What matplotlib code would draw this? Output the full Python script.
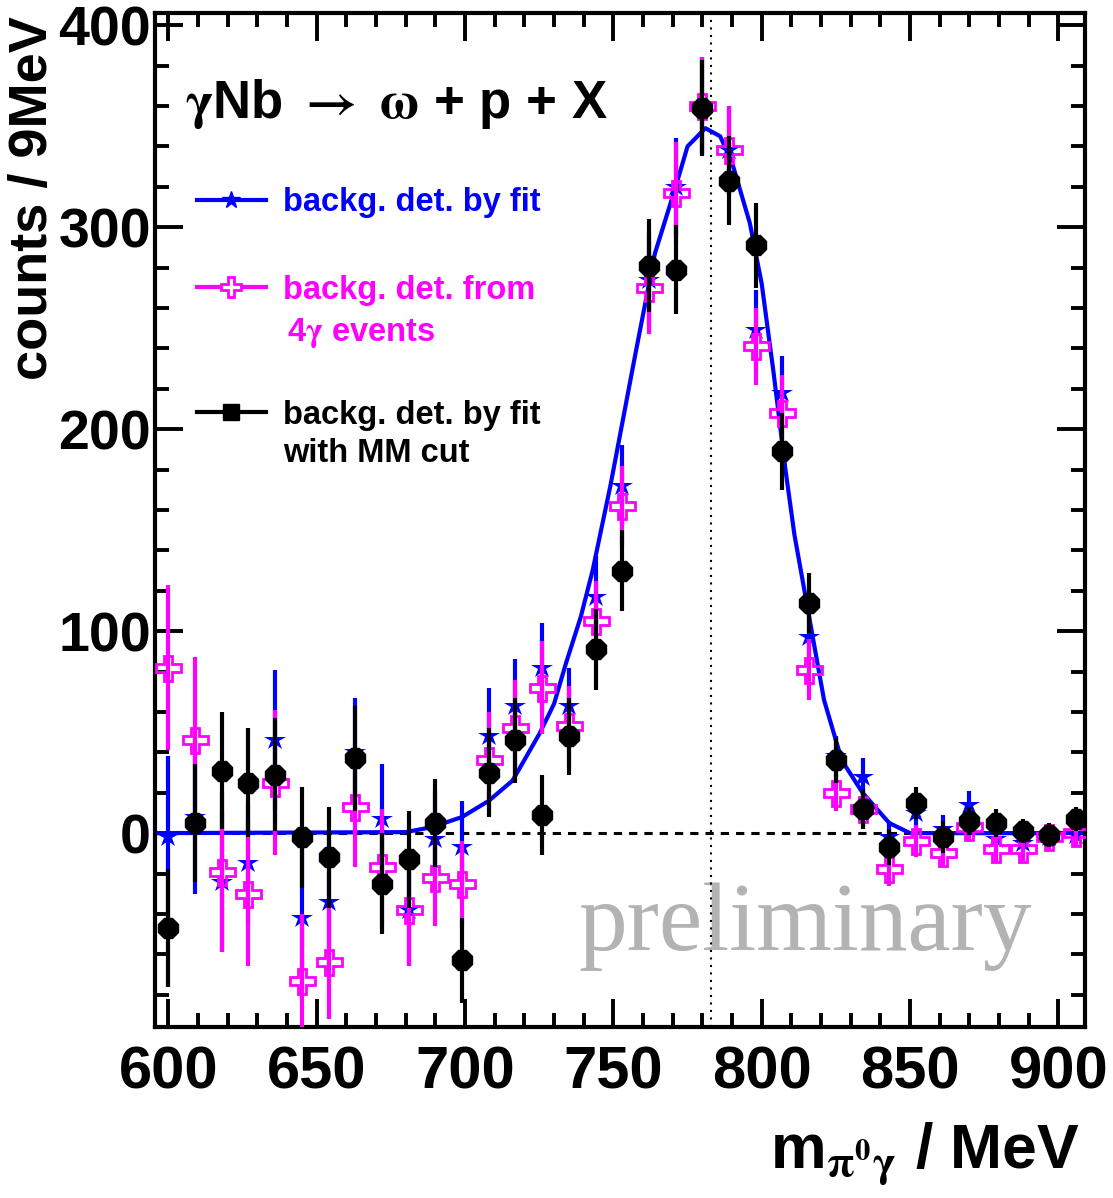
# omega signal in gamma Nb -> omega + p + X, three background methods
import matplotlib
matplotlib.use('Agg')
import matplotlib.pyplot as plt
from matplotlib.ticker import MultipleLocator

plt.rcParams['font.family'] = ['Liberation Sans', 'DejaVu Sans']
plt.rcParams['font.weight'] = 'bold'
plt.rcParams['mathtext.fontset'] = 'stix'

# bin centres (9 MeV bins)
mass = [600, 609, 618, 627, 636, 645, 654, 663, 672, 681, 690, 699,
        708, 717, 726, 735, 744, 753, 762, 771, 780, 789, 798, 807,
        816, 825, 834, 843, 852, 861, 870, 879, 888, 897, 906]

# background determined by fit (blue)
fit_counts = [-2, 8, -24, -15, 46, -42, -34, 40, 7, -38, -3, -7,
              48, 63, 82, 63, 117, 172, 274, 320, 360, 338, 249, 218,
              97, 38, 28, -2, 10, 2, 14, -3, -5, -2, -1]
fit_err = [40, 38, 35, 30, 35, 35, 35, 27, 27, 28, 24, 23,
           24, 23, 22, 19, 20, 20, 23, 24, 24, 22, 20, 18,
           14, 10, 9, 8, 8, 7, 7, 7, 6, 6, 6]

# background from 4 gamma events (magenta)
g4_counts = [82, 46, -19, -30, 25, -73, -64, 13, -17, -38, -22, -25,
             36, 52, 72, 53, 105, 162, 270, 317, 360, 338, 241, 208,
             81, 20, 12, -18, -4, -10, 3, -8, -8, -2, 0]
g4_err = [41, 41, 40, 36, 36, 33, 28, 30, 29, 28, 24, 21,
          24, 24, 23, 20, 20, 20, 23, 25, 24, 22, 19, 19,
          15, 9, 9, 8, 8, 7, 7, 7, 6, 6, 6]

# background by fit with missing mass cut (black)
mm_counts = [-47, 5, 31, 25, 29, -2, -12, 37, -25, -13, 5, -63,
             30, 46, 9, 48, 91, 130, 281, 279, 359, 323, 291, 189,
             114, 36, 12, -7, 15, -2, 6, 5, 1, -1, 7]
mm_err = [29, 29, 29, 27, 28, 25, 25, 26, 25, 24, 22, 21,
          22, 21, 20, 19, 20, 20, 23, 22, 24, 22, 21, 19,
          15, 11, 10, 9, 8, 8, 7, 7, 6, 6, 6]

# fitted signal curve
curve_x = [595.5, 680, 689, 699, 708, 716, 725, 730, 734, 739, 743, 749,
           757, 764, 771, 775, 781, 786, 790, 796, 800, 804, 808, 811,
           816, 821, 827, 834, 843, 850, 909]
curve_y = [0, 0.5, 3, 8, 16, 26, 49, 64, 84, 107, 130, 172,
           234, 287, 320, 340, 349, 345, 332, 302, 272, 228, 180, 148,
           107, 66, 36, 20, 5, 0, 0]

omega_mass = 783


def main():
    fig = plt.figure(figsize=(11.13, 11.98), dpi=100)
    ax = fig.add_axes([0.1393, 0.1427, 0.8356, 0.8464])

    ax.axhline(0, color='k', lw=2.2, ls=(0, (2.7, 2.3)), zorder=1)
    ax.axvline(omega_mass, color='k', lw=1.5, ls=(0, (1, 2.6)), zorder=1)

    ax.errorbar(mass, fit_counts, yerr=fit_err, fmt='*', color='blue',
                ms=16, mew=0, elinewidth=3, capsize=0, zorder=2)
    ax.plot(curve_x, curve_y, color='blue', lw=3, zorder=2)
    ax.errorbar(mass, g4_counts, yerr=g4_err, fmt='P', color='magenta',
                mfc='none', mec='magenta', ms=18, mew=2, elinewidth=3,
                capsize=0, zorder=3)
    ax.errorbar(mass, mm_counts, yerr=mm_err, fmt='8', color='black',
                ms=16, elinewidth=3, capsize=0, zorder=4)

    ax.set_xlim(595.5, 909)
    ax.set_ylim(-96, 406)
    ax.set_xticks([600, 650, 700, 750, 800, 850, 900])
    ax.set_yticks([0, 100, 200, 300, 400])
    ax.xaxis.set_minor_locator(MultipleLocator(10))
    ax.yaxis.set_minor_locator(MultipleLocator(20))
    ax.tick_params(which='both', direction='in', top=True, right=True, width=2.8)
    ax.tick_params(which='major', length=20)
    ax.tick_params(which='minor', length=10)
    ax.tick_params(axis='x', labelsize=43, pad=13)
    ax.tick_params(axis='y', labelsize=40, pad=3)
    for s in ax.spines.values():
        s.set_linewidth(3)

    ax.set_ylabel('counts / 9MeV', fontsize=39, fontweight='bold', loc='top')
    ax.yaxis.set_label_coords(-0.104, 0.997)
    ax.set_xlabel(r'm$_{\mathrm{\pi^{0}\gamma}}$ / MeV', fontsize=45, fontweight='bold', loc='right')
    ax.xaxis.set_label_coords(0.995, -0.092)

    ax.text(0.032, 0.8964, r'$\mathrm{\gamma}$Nb $\rightarrow$ $\mathrm{\omega}$ + p + X',
            transform=ax.transAxes, fontsize=38, fontweight='bold',
            va='baseline', ha='left')

    # legend drawn by hand
    hx = [0.0452, 0.1194]
    ax.plot(hx, [0.8156, 0.8156], color='blue', lw=3, transform=ax.transAxes)
    ax.plot([0.0817], [0.8156], '*', color='blue', ms=13, transform=ax.transAxes)
    ax.plot(hx, [0.7298, 0.7298], color='magenta', lw=3, transform=ax.transAxes)
    ax.plot([0.0817], [0.7298], 'P', mfc='white', mec='magenta', mew=2, ms=15,
            transform=ax.transAxes)
    ax.plot(hx, [0.6065, 0.6065], color='black', lw=3, transform=ax.transAxes)
    ax.plot([0.0817], [0.6065], 's', color='black', ms=12, transform=ax.transAxes)

    lfs = 23.5
    ax.text(0.1376, 0.8136, 'backg. det. by fit', color='blue', fontsize=lfs,
            fontweight='bold', va='center', transform=ax.transAxes)
    ax.text(0.1376, 0.7268, 'backg. det. from', color='magenta', fontsize=lfs,
            fontweight='bold', va='center', transform=ax.transAxes)
    ax.text(0.1419, 0.6844, r'4$\mathrm{\gamma}$ events', color='magenta', fontsize=lfs,
            fontweight='bold', va='center', transform=ax.transAxes)
    ax.text(0.1376, 0.6036, 'backg. det. by fit', color='black', fontsize=lfs,
            fontweight='bold', va='center', transform=ax.transAxes)
    ax.text(0.1376, 0.5661, 'with MM cut', color='black', fontsize=lfs,
            fontweight='bold', va='center', transform=ax.transAxes)

    ax.text(0.455, 0.076, 'preliminary', color='#b3b3b3', fontsize=70,
            family='Liberation Serif', fontweight='normal', va='baseline',
            transform=ax.transAxes, zorder=0)

    fig.savefig('out.png', dpi=100)
    plt.close(fig)

main()
